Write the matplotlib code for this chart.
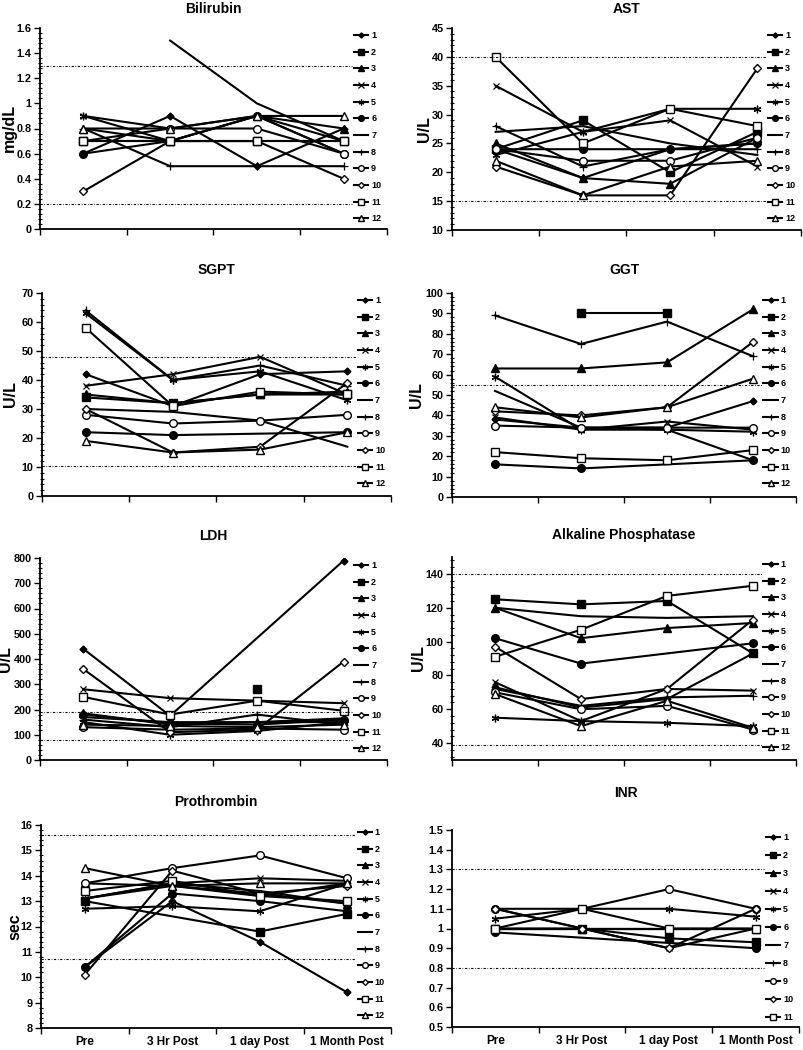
import matplotlib
matplotlib.use("Agg")
import matplotlib.pyplot as plt
import numpy as np
from matplotlib.ticker import MultipleLocator, FuncFormatter, FixedLocator

nan = np.nan

timepoints = ["Pre", "3 Hr Post", "1 day Post", "1 Month Post"]

# one row per patient (1..12), columns = timepoints
bilirubin = [
    [0.6, 0.9, 0.5, 0.8],
    [0.7, 0.7, 0.7, 0.7],
    [0.8, 0.7, 0.9, 0.8],
    [0.9, 0.8, 0.9, 0.6],
    [0.9, 0.7, 0.9, 0.7],
    [0.6, 0.7, 0.9, 0.6],
    [nan, 1.5, 1.0, 0.7],
    [0.8, 0.5, 0.5, 0.5],
    [0.7, 0.8, 0.8, 0.6],
    [0.3, 0.7, 0.7, 0.4],
    [0.7, 0.7, 0.7, 0.7],
    [0.8, 0.8, 0.9, 0.9],
]
ast = [
    [24, 19, 24, 25],
    [24, 29, 20, 27],
    [25, 19, 18, 26],
    [35, 27, 29, 21],
    [23, 27, 31, 31],
    [24, 24, 24, 25],
    [27, 28, 25, 23],
    [28, 21, 24, 24],
    [24, 22, 22, 26],
    [21, 16, 16, 38],
    [40, 25, 31, 28],
    [22, 16, 21, 22],
]
sgpt = [
    [42, 31, 42, 43],
    [34, 32, 35, 35],
    [35, 32, 35, 36],
    [38, 42, 48, 35],
    [63, 40, 43, 33],
    [22, 21, nan, 22],
    [30, 29, 26, 17],
    [64, 40, 45, 38],
    [28, 25, 26, 28],
    [30, 15, 17, 39],
    [58, 31, 36, 35],
    [19, 15, 16, 22],
]
ggt = [
    [38, 34, 34, 47],
    [nan, 90, 90, nan],
    [63, 63, 66, 92],
    [39, 33, 37, 33],
    [59, 33, 33, 32],
    [16, 14, nan, 18],
    [52, 34, 33, 18],
    [89, 75, 86, 69],
    [35, 34, 34, 34],
    [42, 40, 44, 76],
    [22, 19, 18, 23],
    [44, 39, 44, 58],
]
ldh = [
    [440, 175, nan, 790],
    [nan, nan, 280, nan],
    [185, 140, 150, 165],
    [280, 245, 235, 225],
    [150, 100, 115, 150],
    [180, 145, 140, 160],
    [170, 150, 150, 150],
    [160, 130, 180, 140],
    [130, 120, 125, 120],
    [360, 110, 120, 390],
    [250, 180, 235, 195],
    [140, 135, 130, 140],
]
alk_phos = [
    [73, 61, 66, 93],
    [125, 122, 124, 93],
    [120, 102, 108, 111],
    [76, 53, 72, 71],
    [55, 53, 52, 50],
    [102, 87, nan, 99],
    [120, 115, 114, 115],
    [72, 62, 67, 68],
    [70, 60, 62, 48],
    [97, 66, 72, 113],
    [91, 107, 127, 133],
    [69, 50, 65, 49],
]
prothrombin = [
    [10.4, 13.0, 11.4, 9.4],
    [13.0, nan, 11.8, 12.5],
    [13.7, 13.6, 13.3, 12.9],
    [13.1, 13.7, 13.9, 13.8],
    [12.7, 12.8, 12.6, 13.7],
    [10.4, 13.3, 13.0, 12.6],
    [13.1, 13.7, 13.4, 12.9],
    [13.1, 13.6, 13.2, 13.7],
    [13.7, 14.3, 14.8, 13.9],
    [10.1, 14.2, 13.3, 13.6],
    [13.4, 13.8, 13.2, 13.0],
    [14.3, 13.6, 13.7, 13.7],
]
inr = [
    [1.0, 1.0, 1.0, 1.0],
    [1.0, 1.0, 0.95, 0.93],
    [1.0, 1.0, 1.0, 1.0],
    [1.1, 1.0, 0.9, 1.0],
    [1.05, 1.1, 1.1, 1.06],
    [0.98, nan, nan, 0.9],
    [1.0, 1.0, 1.0, 1.0],
    [1.0, 1.0, 1.0, 1.0],
    [1.1, 1.1, 1.2, 1.1],
    [1.1, 1.0, 0.9, 1.1],
    [1.0, 1.1, 1.0, 1.0],
]

# marker style per patient
markers = [
    dict(marker="D", ms=3.5, mfc="black"),
    dict(marker="s", ms=5.5, mfc="black"),
    dict(marker="^", ms=5.5, mfc="black"),
    dict(marker="x", ms=5, mew=0.9),
    dict(marker=(6, 2, 0), ms=5.5, mew=0.9),
    dict(marker="o", ms=5.5, mfc="black"),
    dict(marker="None"),
    dict(marker="+", ms=6, mew=0.9),
    dict(marker="o", ms=5.5, mfc="white"),
    dict(marker="D", ms=4, mfc="white"),
    dict(marker="s", ms=5.5, mfc="white"),
    dict(marker="^", ms=5.5, mfc="white"),
]

# panel: data, title, ylabel, y range, major/minor step, ref lines, box px, title pad, ylabel x
panels = [
    (bilirubin, "Bilirubin", "mg/dL", 0, 1.6, 0.2, 0.04, [1.3, 0.2], (40, 387, 28, 229), 11, -0.066),
    (ast, "AST", "U/L", 10, 45, 5, 1, [40, 15], (452, 801, 28, 230), 11, -0.057),
    (sgpt, "SGPT", "U/L", 0, 70, 10, 2, [48, 10.5], (42, 391, 293, 496), 14, -0.069),
    (ggt, "GGT", "U/L", 0, 100, 10, 2, [55], (452, 796, 293, 497), 14, -0.081),
    (ldh, "LDH", "U/L", 0, 800, 100, 20, [192, 80], (40, 387, 558, 760), 13, -0.078),
    (alk_phos, "Alkaline Phosphatase", "U/L", 30, 150, 20, 4, [140, 39], (452, 796, 557, 760), 13, -0.076),
    (prothrombin, "Prothrombin", "sec", 8, 16, 1, 0.2, [15.6, 10.7], (41, 391, 825, 1028), 14, -0.054),
    (inr, "INR", None, 0.5, 1.5, 0.1, None, [1.3, 0.8], (452, 799, 830, 1027), 24, 0),
]

W, H = 804, 1050
fig = plt.figure(figsize=(W / 100, H / 100), dpi=100)
plt.rcParams["font.family"] = ["Liberation Sans", "DejaVu Sans"]

x = np.arange(4)
for i, (data, title, ylabel, ymin, ymax, major, minor, refs, box, tpad, ylx) in enumerate(panels):
    x0, x1, yt, yb = box
    ax = fig.add_axes([x0 / W, 1 - yb / H, (x1 - x0) / W, (yb - yt) / H])
    for j, row in enumerate(data):
        row = np.array(row, dtype=float)
        ok = ~np.isnan(row)
        ax.plot(x[ok], row[ok], color="black", lw=1.5, mec="black",
                label=str(j + 1), **markers[j])
    for r in refs:
        ax.axhline(r, xmin=0, xmax=0.9, color="black", lw=0.8, ls=(0, (2, 1.5, 0.6, 1.5)))

    ax.set_xlim(-0.5, 3.5)
    ax.set_ylim(ymin, ymax)
    ax.yaxis.set_major_locator(MultipleLocator(major))
    ax.yaxis.set_major_formatter(FuncFormatter(lambda v, p: f"{v:.10g}"))
    if minor:
        ax.yaxis.set_minor_locator(MultipleLocator(minor))
        ax.tick_params(axis="y", which="minor", direction="inout", length=3, width=0.8)
    ax.tick_params(axis="y", which="major", direction="out", length=4, width=1,
                   labelsize=7.8, pad=2)
    for lab in ax.get_yticklabels():
        lab.set_fontweight("bold")

    ax.xaxis.set_major_locator(FixedLocator([-0.5, 0.5, 1.5, 2.5, 3.5]))
    ax.xaxis.set_major_formatter(FuncFormatter(lambda v, p: ""))
    ax.tick_params(axis="x", which="major", direction="out", length=4, width=1)
    if i >= 6:
        ax.xaxis.set_minor_locator(FixedLocator(x))
        ax.set_xticklabels(timepoints, minor=True)
        ax.tick_params(axis="x", which="minor", length=0, pad=6, labelsize=8.5)
        for lab in ax.get_xticklabels(minor=True):
            lab.set_fontweight("bold")

    for s in ["top", "right"]:
        ax.spines[s].set_visible(False)
    for s in ["left", "bottom"]:
        ax.spines[s].set_linewidth(1.3)

    ax.set_title(title, fontsize=10, fontweight="bold", pad=tpad)
    if ylabel:
        ax.set_ylabel(ylabel, fontsize=11.5, fontweight="bold")
        ax.yaxis.set_label_coords(ylx, 0.5)

    nser = len(data)
    ax.legend(loc="upper left", bbox_to_anchor=(0.905, 0.985), frameon=False,
              prop={"weight": "bold", "size": 6.5},
              handlelength=1.6, handletextpad=0.3,
              labelspacing=0.85 if nser == 12 else 1.0, borderaxespad=0,
              borderpad=0, markerscale=0.75)

fig.savefig("out.png", dpi=100)
